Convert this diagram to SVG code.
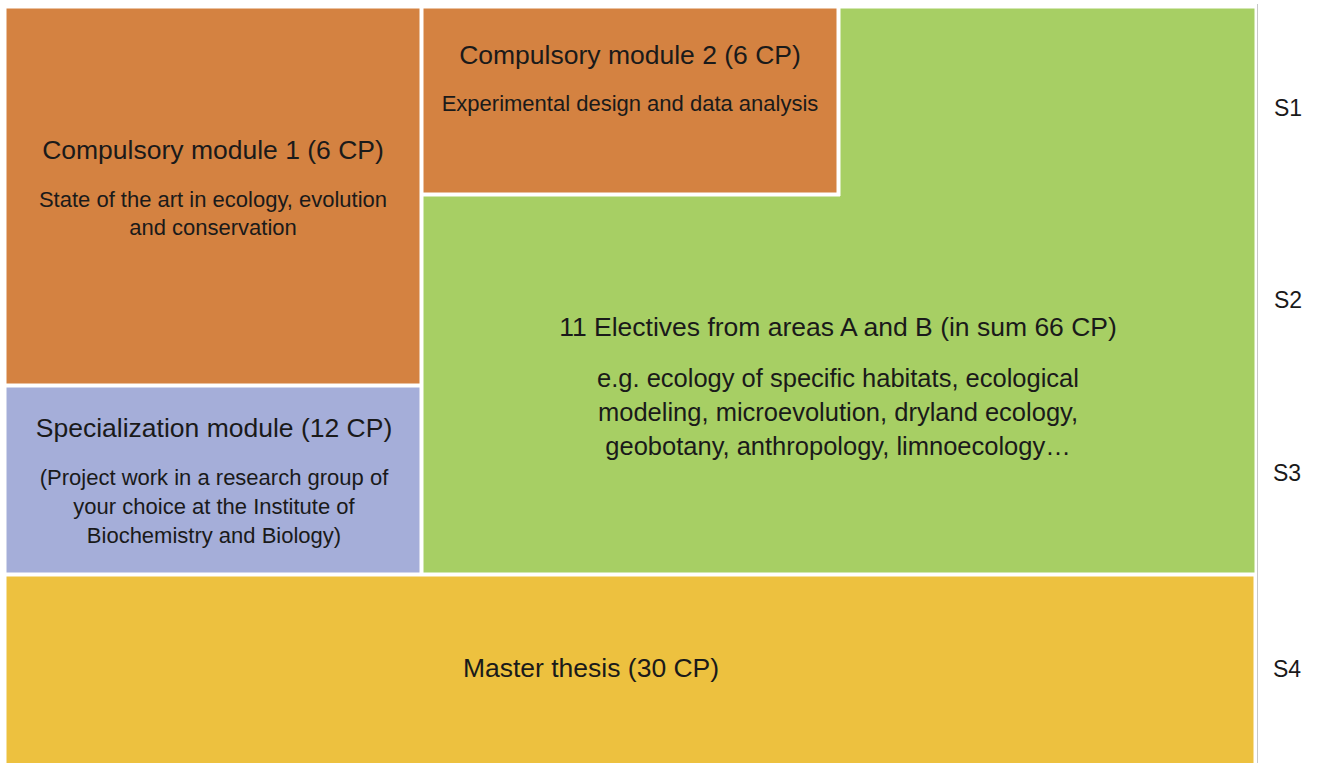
<svg xmlns="http://www.w3.org/2000/svg" width="1320" height="763" viewBox="0 0 1320 763">
<style>
text{font-family:"Liberation Sans",Arial,sans-serif;fill:#1a1a1a;text-anchor:middle}
.t{font-size:26.5px}
.b{font-size:22px}
.g{font-size:25.5px}
.s{font-size:23px}
.box{stroke:#ffffff;stroke-width:1}
</style>
<rect x="0" y="0" width="1320" height="763" fill="#ffffff"/>
<line x1="1257.5" y1="4" x2="1257.5" y2="763" stroke="#c8c8c8" stroke-width="1"/>
<g id="electives">
<polygon class="box" points="840,8 1255,8 1255,573 423,573 423,196 840,196" fill="#A7CF64"/>
<text class="t" x="838" y="336">11 Electives from areas A and B (in sum 66 CP)</text>
<text class="g" x="838" y="387">e.g. ecology of specific habitats, ecological</text>
<text class="g" x="838" y="421">modeling, microevolution, dryland ecology,</text>
<text class="g" x="838" y="455">geobotany, anthropology, limnoecology…</text>
</g>
<g id="compulsory1">
<rect class="box" x="6" y="8" width="414" height="376" fill="#D48241"/>
<text class="t" x="213" y="159">Compulsory module 1 (6 CP)</text>
<text class="b" x="213" y="207">State of the art in ecology, evolution</text>
<text class="b" x="213" y="235">and conservation</text>
</g>
<g id="compulsory2">
<rect class="box" x="423" y="8" width="414" height="185" fill="#D48241"/>
<text class="t" x="630" y="64">Compulsory module 2 (6 CP)</text>
<text class="b" x="630" y="111">Experimental design and data analysis</text>
</g>
<g id="specialization">
<rect class="box" x="6" y="387" width="414" height="186" fill="#A5AED9"/>
<text class="t" x="214" y="437">Specialization module (12 CP)</text>
<text class="b" x="214" y="485">(Project work in a research group of</text>
<text class="b" x="214" y="514">your choice at the Institute of</text>
<text class="b" x="214" y="543">Biochemistry and Biology)</text>
</g>
<g id="thesis">
<rect class="box" x="6" y="576" width="1248" height="190" fill="#EDC13F"/>
<text class="t" x="591" y="677">Master thesis (30 CP)</text>
</g>
<g id="semesters">
<text class="s" x="1288" y="116">S1</text>
<text class="s" x="1288" y="308">S2</text>
<text class="s" x="1287" y="481">S3</text>
<text class="s" x="1287" y="677">S4</text>
</g>
<g id="connectors"></g>
</svg>
